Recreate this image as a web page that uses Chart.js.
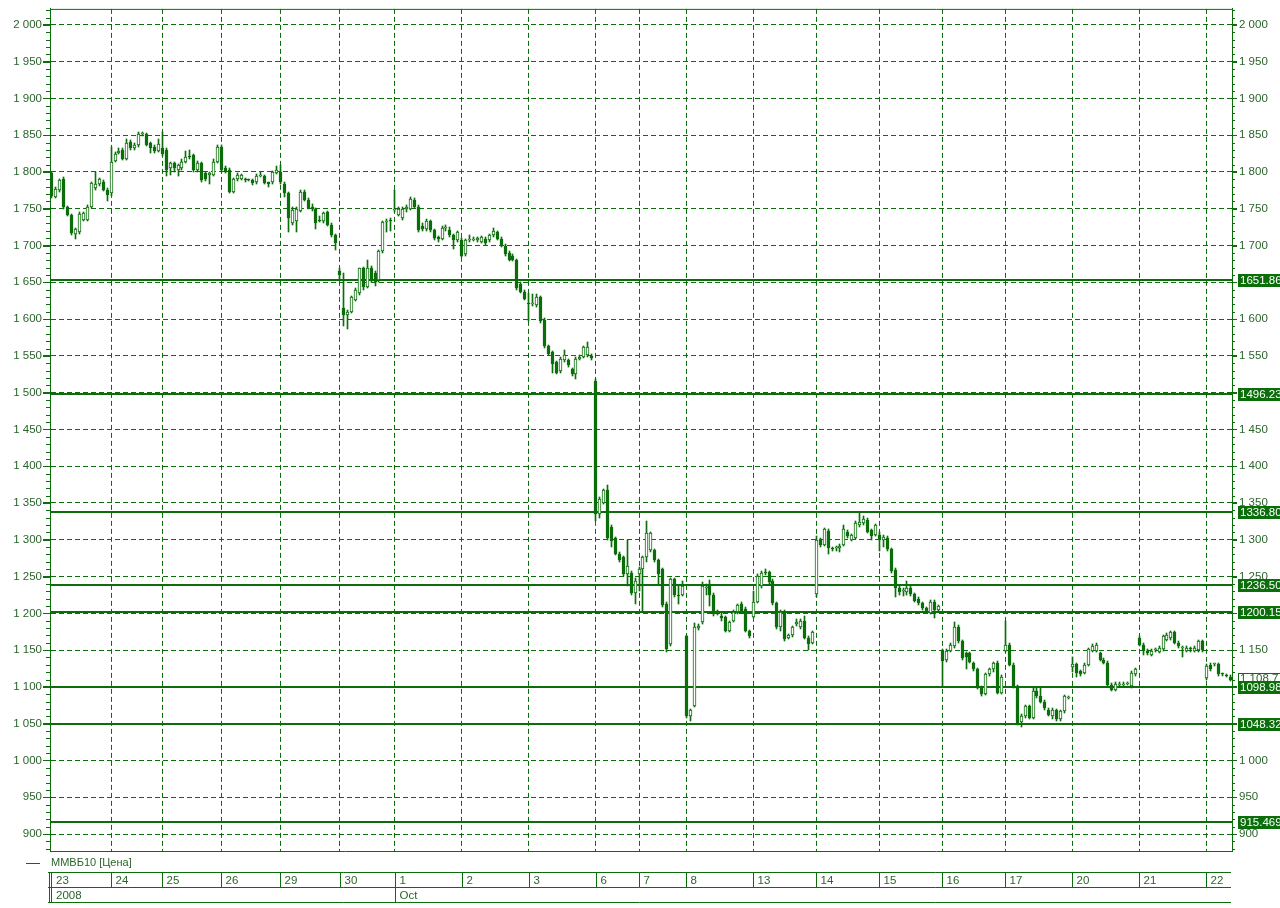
<!DOCTYPE html>
<html>
<head>
<meta charset="utf-8">
<script src="https://cdn.jsdelivr.net/npm/chart.js@4.4.0/dist/chart.umd.min.js"></script>
<style>
  html, body { margin: 0; padding: 0; background: #fff; }
  canvas { display: block; }
</style>
</head>
<body>
<canvas id="chart" width="1280" height="908"></canvas>
<script>
// trading days and number of 30-min candles in each
const dayLabels = ['23', '24', '25', '26', '29', '30', '1', '2', '3', '6', '7', '8', '13', '14', '15', '16', '17', '20', '21', '22'];
const dayCandles = [15, 13, 15, 15, 15, 14, 17, 17, 17, 11, 12, 17, 16, 16, 16, 16, 17, 17, 17, 7];
const monthNames = ['2008', 'Oct'];
const monthStartDay = [0, 6];
const seriesName = 'ММВБ10 [Цена]';

const opens = [
  1798, 1766, 1775, 1791, 1753, 1742, 1716, 1719, 1735, 1735, 1753, 1778, 1783, 1787, 1776,
  1771, 1815, 1826, 1830, 1818, 1841, 1832, 1836, 1851, 1851, 1839, 1834, 1829,
  1832, 1830, 1805, 1812, 1803, 1805, 1814, 1822, 1823, 1803, 1812, 1798, 1796, 1796, 1814,
  1834, 1805, 1803, 1773, 1790, 1791, 1790, 1790, 1789, 1786, 1795, 1794, 1786, 1786, 1799,
  1800, 1784, 1771, 1730, 1733, 1747, 1773, 1762, 1753, 1750, 1735, 1733, 1745, 1728, 1714,
  1665, 1615, 1605, 1610, 1626, 1635, 1669, 1644, 1669, 1662, 1653, 1692, 1732, 1735,
  1748, 1742, 1737, 1749, 1750, 1762, 1753, 1726, 1722, 1734, 1721, 1711, 1709, 1724, 1721, 1714, 1707,
  1707, 1688, 1707, 1708, 1707, 1705, 1709, 1707, 1714, 1718, 1709, 1700, 1690, 1686, 1680, 1648, 1637,
  1621, 1620, 1619, 1630, 1599, 1563, 1555, 1541, 1530, 1544, 1544, 1532, 1525, 1546, 1549, 1551, 1550,
  1516, 1335, 1350, 1367, 1318, 1302, 1281, 1276, 1253, 1255, 1227,
  1253, 1260, 1276, 1286, 1286, 1272, 1260, 1213, 1158, 1246, 1225, 1225,
  1169, 1061, 1074, 1180, 1188, 1234, 1239, 1225, 1202, 1197, 1195, 1176, 1190, 1202, 1213, 1206, 1176,
  1195, 1216, 1237, 1256, 1256, 1244, 1214, 1181, 1202, 1167, 1170, 1186, 1181, 1190, 1167, 1160,
  1226, 1300, 1293, 1312, 1289, 1289, 1289, 1293, 1311, 1300, 1303, 1320, 1323, 1327, 1313, 1307,
  1307, 1300, 1303, 1287, 1259, 1235, 1231, 1229, 1235, 1226, 1220, 1214, 1207, 1201, 1216, 1204,
  1149, 1136, 1149, 1155, 1182, 1162, 1146, 1146, 1132, 1124, 1099, 1091, 1117, 1124, 1132, 1092,
  1149, 1157, 1130, 1100, 1052, 1060, 1074, 1058, 1094, 1087, 1080, 1069, 1060, 1068, 1056, 1067, 1085,
  1127, 1131, 1121, 1119, 1130, 1149, 1149, 1146, 1137, 1133, 1103, 1096, 1103, 1103, 1104, 1101, 1117,
  1166, 1157, 1149, 1144, 1150, 1148, 1151, 1164, 1166, 1174, 1160, 1153, 1149, 1152, 1149, 1150, 1162,
  1112, 1130, 1131, 1131, 1118, 1116, 1114
];
const highs = [
  1800, 1780, 1790, 1793, 1754, 1743, 1724, 1745, 1746, 1755, 1787, 1800, 1792, 1789, 1778,
  1834, 1827, 1832, 1832, 1845, 1843, 1840, 1855, 1855, 1853, 1841, 1836, 1845,
  1855, 1832, 1814, 1814, 1811, 1818, 1828, 1830, 1825, 1815, 1814, 1800, 1800, 1818, 1836,
  1836, 1808, 1805, 1792, 1798, 1797, 1792, 1791, 1791, 1797, 1800, 1796, 1787, 1801, 1808,
  1810, 1786, 1773, 1752, 1752, 1775, 1775, 1764, 1756, 1751, 1740, 1746, 1747, 1730, 1716,
  1670, 1662, 1612, 1632, 1642, 1670, 1671, 1680, 1672, 1665, 1694, 1734, 1736, 1737,
  1776, 1752, 1752, 1755, 1766, 1764, 1755, 1730, 1736, 1735, 1723, 1713, 1726, 1728, 1725, 1716, 1720,
  1710, 1709, 1714, 1712, 1712, 1713, 1711, 1716, 1724, 1720, 1711, 1702, 1692, 1688, 1682, 1650, 1639,
  1635, 1634, 1634, 1632, 1601, 1565, 1557, 1543, 1548, 1558, 1546, 1534, 1548, 1551, 1564, 1569, 1553,
  1518, 1358, 1369, 1374, 1320, 1304, 1283, 1278, 1300, 1257, 1248,
  1263, 1278, 1326, 1311, 1288, 1274, 1262, 1215, 1248, 1248, 1237, 1244,
  1171, 1070, 1187, 1185, 1242, 1240, 1245, 1227, 1204, 1200, 1197, 1190, 1204, 1213, 1215, 1208, 1178,
  1230, 1253, 1258, 1260, 1258, 1246, 1216, 1204, 1204, 1172, 1183, 1192, 1192, 1197, 1169, 1176,
  1305, 1303, 1316, 1314, 1290, 1292, 1294, 1320, 1313, 1308, 1326, 1336, 1332, 1329, 1315, 1322,
  1310, 1306, 1305, 1289, 1261, 1237, 1234, 1244, 1238, 1228, 1222, 1216, 1209, 1218, 1218, 1212,
  1151, 1151, 1159, 1188, 1184, 1164, 1148, 1148, 1134, 1126, 1101, 1119, 1126, 1134, 1135, 1116,
  1190, 1160, 1132, 1102, 1063, 1076, 1076, 1100, 1100, 1100, 1082, 1071, 1071, 1070, 1069, 1089, 1088,
  1140, 1133, 1123, 1132, 1153, 1158, 1159, 1148, 1139, 1135, 1105, 1106, 1106, 1107, 1107, 1121, 1126,
  1169, 1159, 1151, 1151, 1153, 1155, 1171, 1173, 1176, 1176, 1162, 1155, 1155, 1154, 1155, 1164, 1164,
  1131, 1132, 1133, 1133, 1119, 1117, 1116
];
const lows = [
  1765, 1764, 1773, 1750, 1740, 1715, 1709, 1716, 1733, 1733, 1751, 1776, 1781, 1774, 1761,
  1768, 1813, 1824, 1816, 1816, 1830, 1830, 1834, 1849, 1835, 1826, 1826, 1827,
  1822, 1795, 1796, 1800, 1795, 1803, 1812, 1818, 1800, 1800, 1787, 1788, 1783, 1794, 1812,
  1800, 1798, 1771, 1771, 1788, 1789, 1787, 1788, 1782, 1784, 1793, 1783, 1780, 1784, 1797,
  1784, 1766, 1718, 1728, 1719, 1745, 1760, 1749, 1747, 1722, 1732, 1731, 1726, 1712, 1694,
  1655, 1590, 1587, 1608, 1624, 1633, 1640, 1642, 1651, 1645, 1651, 1690, 1718, 1720,
  1745, 1740, 1735, 1746, 1748, 1751, 1718, 1720, 1720, 1719, 1708, 1705, 1707, 1720, 1712, 1695, 1705,
  1684, 1686, 1705, 1706, 1705, 1703, 1701, 1705, 1712, 1707, 1698, 1686, 1679, 1679, 1640, 1635, 1626,
  1597, 1618, 1617, 1595, 1561, 1551, 1527, 1525, 1527, 1542, 1535, 1523, 1518, 1544, 1547, 1549, 1545,
  1325, 1330, 1348, 1300, 1290, 1279, 1270, 1251, 1237, 1225, 1213,
  1230, 1202, 1270, 1284, 1270, 1240, 1209, 1148, 1155, 1222, 1213, 1223,
  1058, 1053, 1072, 1178, 1186, 1225, 1210, 1197, 1198, 1190, 1174, 1174, 1188, 1199, 1200, 1174, 1166,
  1193, 1214, 1235, 1252, 1240, 1212, 1179, 1176, 1163, 1165, 1168, 1183, 1179, 1165, 1150, 1158,
  1222, 1290, 1291, 1281, 1285, 1285, 1284, 1291, 1303, 1298, 1301, 1318, 1320, 1309, 1300, 1305,
  1285, 1290, 1285, 1255, 1222, 1225, 1224, 1225, 1223, 1215, 1212, 1205, 1200, 1199, 1193, 1202,
  1100, 1134, 1147, 1153, 1160, 1137, 1124, 1132, 1122, 1097, 1088, 1089, 1115, 1120, 1090, 1090,
  1147, 1128, 1099, 1048, 1046, 1058, 1056, 1056, 1085, 1078, 1069, 1060, 1056, 1054, 1053, 1065, 1083,
  1120, 1114, 1115, 1117, 1128, 1147, 1147, 1135, 1131, 1101, 1094, 1094, 1100, 1101, 1102, 1099, 1115,
  1155, 1143, 1144, 1142, 1148, 1146, 1149, 1162, 1164, 1158, 1153, 1141, 1147, 1147, 1147, 1148, 1148,
  1110, 1122, 1129, 1115, 1115, 1113, 1108
];
const closes = [
  1767, 1777, 1789, 1753, 1742, 1717, 1722, 1743, 1744, 1753, 1785, 1784, 1790, 1776, 1769,
  1814, 1825, 1829, 1818, 1839, 1832, 1836, 1852, 1852, 1837, 1832, 1828, 1838,
  1825, 1803, 1812, 1806, 1809, 1814, 1821, 1821, 1803, 1812, 1789, 1791, 1799, 1814, 1834,
  1803, 1800, 1773, 1790, 1796, 1796, 1789, 1789, 1785, 1795, 1796, 1785, 1783, 1800, 1803,
  1786, 1771, 1737, 1748, 1750, 1773, 1762, 1751, 1750, 1730, 1733, 1744, 1728, 1714, 1703,
  1660, 1606, 1610, 1630, 1640, 1669, 1644, 1669, 1653, 1651, 1692, 1732, 1733, 1733,
  1750, 1750, 1750, 1753, 1763, 1753, 1721, 1723, 1733, 1721, 1710, 1709, 1724, 1725, 1714, 1707, 1718,
  1686, 1707, 1708, 1709, 1710, 1711, 1703, 1714, 1720, 1709, 1700, 1688, 1681, 1681, 1642, 1637, 1628,
  1620, 1621, 1630, 1597, 1563, 1553, 1539, 1527, 1546, 1551, 1537, 1525, 1546, 1549, 1562, 1562, 1547,
  1335, 1355, 1367, 1302, 1299, 1281, 1272, 1253, 1265, 1227, 1244,
  1260, 1276, 1309, 1309, 1272, 1253, 1211, 1151, 1246, 1225, 1224, 1237,
  1060, 1068, 1181, 1183, 1237, 1235, 1225, 1199, 1200, 1193, 1176, 1188, 1202, 1211, 1202, 1176, 1169,
  1216, 1251, 1255, 1255, 1242, 1214, 1181, 1202, 1165, 1170, 1181, 1188, 1190, 1167, 1158, 1174,
  1300, 1293, 1314, 1289, 1288, 1290, 1291, 1314, 1305, 1306, 1323, 1324, 1328, 1311, 1305, 1320,
  1300, 1304, 1287, 1257, 1235, 1229, 1232, 1234, 1226, 1217, 1214, 1207, 1202, 1216, 1205, 1210,
  1135, 1149, 1157, 1182, 1162, 1139, 1140, 1134, 1124, 1099, 1090, 1117, 1124, 1132, 1092, 1114,
  1157, 1130, 1101, 1050, 1061, 1074, 1058, 1094, 1087, 1080, 1071, 1062, 1069, 1056, 1067, 1087, 1086,
  1131, 1119, 1117, 1130, 1151, 1155, 1157, 1137, 1133, 1103, 1096, 1104, 1104, 1104, 1105, 1119, 1124,
  1157, 1149, 1146, 1149, 1151, 1153, 1169, 1171, 1174, 1160, 1155, 1153, 1153, 1151, 1153, 1162, 1150,
  1129, 1124, 1132, 1117, 1117, 1115, 1108.7
];

// horizontal level lines and their right-hand labels
const levels = [1651.861, 1496.232, 1336.801, 1236.5, 1200.157, 1098.982, 1048.327, 915.4695];
const levelText = ['1651.861', '1496.232', '1336.801', '1236.500', '1200.157', '1098.982', '1048.327', '915.4695'];
const lastPrice = 1108.7;
const lastPriceText = '1 108.7';

const GREEN = '#0b6e0b';
const TEXT = '#2b642b';
const FAMILY = '"Liberation Sans", Arial, sans-serif';
const Y_MIN = 876.9;
const Y_MAX = 2021.7;

// one category per candle, remember where each day starts
const labels = [];
const dayStart = [];
dayCandles.forEach((n, d) => {
  dayStart.push(labels.length);
  for (let k = 0; k < n; k++) labels.push(dayLabels[d] + '.' + k);
});
const dayStartSet = new Set(dayStart.slice(1));

const fmt = v => v >= 1000 ? Math.floor(v / 1000) + ' ' + String(v % 1000).padStart(3, '0') : String(v);

// snap candle bars to whole pixels so they stay crisp
const snapBars = {
  id: 'snapBars',
  beforeDatasetsDraw(chart) {
    chart.data.datasets.forEach((ds, i) => {
      chart.getDatasetMeta(i).data.forEach(el => {
        el.x = Math.floor(el.x) + 0.5;
        el.y = Math.round(el.y);
        el.base = Math.round(el.base);
      });
    });
  }
};

const levelLines = {
  id: 'levelLines',
  beforeDatasetsDraw(chart) {
    const { ctx, chartArea: a, scales: { y } } = chart;
    ctx.save();
    ctx.fillStyle = GREEN;
    levels.forEach(v => {
      const py = Math.round(y.getPixelForValue(v));
      ctx.fillRect(a.left, py - 2, a.right - a.left, 2);
    });
    ctx.restore();
  }
};

const overlay = {
  id: 'overlay',
  afterDraw(chart) {
    const { ctx, chartArea: a, scales: { x, y } } = chart;
    ctx.save();
    ctx.strokeStyle = GREEN;
    ctx.lineWidth = 1;

    // frame top / bottom / right
    ctx.beginPath();
    ctx.moveTo(a.left, a.top + 0.5); ctx.lineTo(a.right, a.top + 0.5);
    ctx.moveTo(a.left, a.bottom + 0.5); ctx.lineTo(a.right, a.bottom + 0.5);
    ctx.moveTo(a.right + 0.5, a.top); ctx.lineTo(a.right + 0.5, a.bottom);
    ctx.stroke();

    // minor ticks every 10 on both axes
    ctx.beginPath();
    for (let v = 880; v <= 2020; v += 10) {
      const py = Math.round(y.getPixelForValue(v)) + 0.5;
      const major = v % 50 === 0;
      ctx.moveTo(a.left - (major ? 7 : 4), py); ctx.lineTo(a.left, py);
      ctx.moveTo(a.right, py); ctx.lineTo(a.right + (major ? 5 : 3), py);
    }
    ctx.stroke();

    ctx.font = '11.5px ' + FAMILY;
    ctx.textBaseline = 'middle';

    // last price box
    const lp = Math.round(y.getPixelForValue(lastPrice));
    ctx.fillStyle = '#fff';
    ctx.fillRect(1238, lp - 7, 42, 12);
    ctx.strokeRect(1238.5, lp - 6.5, 42, 11);
    ctx.fillStyle = TEXT;
    ctx.fillText(lastPriceText, 1240, lp - 1);

    // level labels
    levels.forEach((v, i) => {
      const py = Math.round(y.getPixelForValue(v));
      ctx.fillStyle = GREEN;
      ctx.fillRect(1238, py - 7, 42, 13);
      ctx.fillStyle = '#fff';
      ctx.fillText(levelText[i], 1240, py);
    });

    // legend
    ctx.beginPath();
    ctx.moveTo(26, 863.5); ctx.lineTo(40, 863.5);
    ctx.stroke();
    ctx.font = '11px ' + FAMILY;
    ctx.fillStyle = TEXT;
    ctx.fillText(seriesName, 51, 863);

    // date table
    ctx.font = '11.5px ' + FAMILY;
    const L = 48, R = 1231, t0 = 872.5, t1 = 887.5, t2 = 902.5;
    ctx.beginPath();
    [t0, t1, t2].forEach(ty => { ctx.moveTo(L, ty); ctx.lineTo(R, ty); });
    ctx.moveTo(49.5, t0); ctx.lineTo(49.5, t2);
    ctx.moveTo(51.5, t0); ctx.lineTo(51.5, t2);
    dayStart.forEach((s, d) => {
      const px = d === 0 ? 52 : Math.round(x.getPixelForValue(s)) + 0.5;
      if (d > 0) { ctx.moveTo(px, t0); ctx.lineTo(px, t1); }
      ctx.fillText(dayLabels[d], px + 4, 880.5);
    });
    monthNames.forEach((m, k) => {
      const d = monthStartDay[k];
      const px = d === 0 ? 52 : Math.round(x.getPixelForValue(dayStart[d])) + 0.5;
      if (d > 0) { ctx.moveTo(px, t1); ctx.lineTo(px, t2); }
      ctx.fillText(m, px + 4, 895.5);
    });
    ctx.stroke();
    ctx.restore();
  }
};

new Chart(document.getElementById('chart'), {
  type: 'bar',
  data: {
    labels: labels,
    datasets: [
      {
        label: 'body',
        data: opens.map((o, i) => [o, closes[i]]),
        backgroundColor: opens.map((o, i) => closes[i] >= o ? '#ffffff' : GREEN),
        borderColor: GREEN,
        borderWidth: 1,
        borderSkipped: false,
        barThickness: 3,
        minBarLength: 1,
        grouped: false,
        order: 0
      },
      {
        label: 'wick',
        data: lows.map((l, i) => [l, highs[i]]),
        backgroundColor: GREEN,
        borderWidth: 0,
        barThickness: 1,
        grouped: false,
        order: 1
      }
    ]
  },
  options: {
    responsive: false,
    animation: false,
    layout: { padding: { top: 7, bottom: 57, left: 0, right: 0 } },
    plugins: { legend: { display: false }, tooltip: { enabled: false } },
    scales: {
      x: {
        offset: true,
        afterFit: s => { s.height = 0; },
        ticks: { display: false, autoSkip: false },
        grid: {
          offset: false,
          drawTicks: false,
          color: c => dayStartSet.has(c.index) ? GREEN : 'rgba(0,0,0,0)'
        },
        border: { display: false, dash: [5, 3] }
      },
      y: {
        position: 'left',
        min: Y_MIN,
        max: Y_MAX,
        afterFit: s => { s.width = 50; },
        ticks: {
          stepSize: 50,
          includeBounds: false,
          padding: 1,
          color: TEXT,
          font: { family: FAMILY, size: 11.5 },
          callback: v => fmt(v)
        },
        grid: { color: GREEN, tickColor: GREEN, tickLength: 7 },
        border: { color: GREEN, dash: [5, 3] }
      },
      y2: {
        position: 'right',
        min: Y_MIN,
        max: Y_MAX,
        afterFit: s => { s.width = 48; },
        ticks: {
          stepSize: 50,
          includeBounds: false,
          padding: 2,
          color: TEXT,
          font: { family: FAMILY, size: 11.5 },
          callback: v => fmt(v)
        },
        grid: { drawOnChartArea: false, tickColor: GREEN, tickLength: 5 },
        border: { color: GREEN }
      }
    }
  },
  plugins: [snapBars, levelLines, overlay]
});
</script>
</body>
</html>
